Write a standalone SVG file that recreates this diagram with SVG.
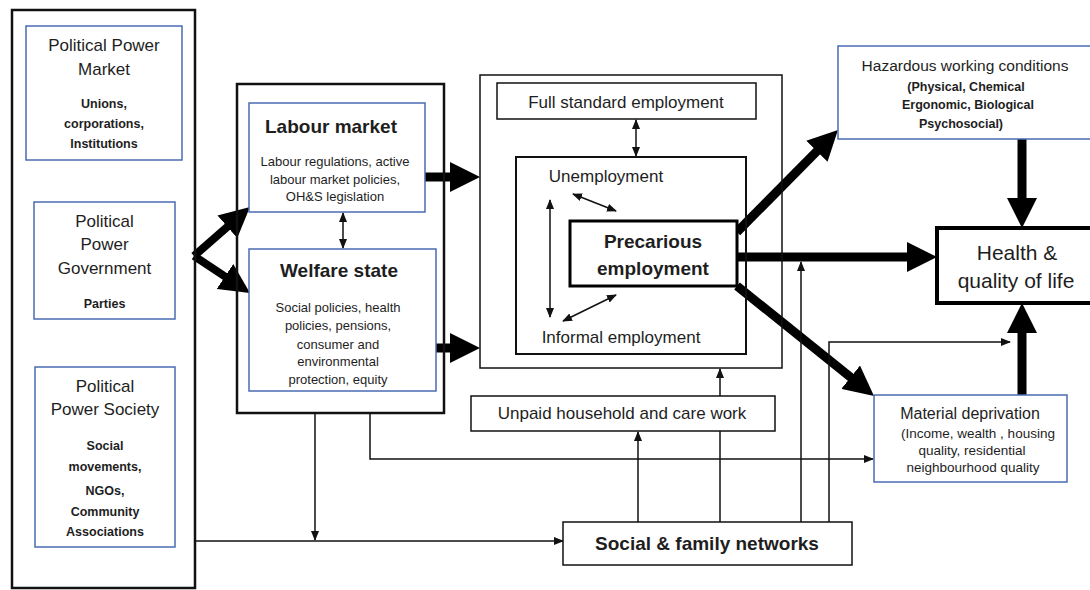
<svg xmlns="http://www.w3.org/2000/svg" width="1090" height="590" viewBox="0 0 1090 590">
<style>
text{font-family:"Liberation Sans",Arial,sans-serif;fill:#1e1e1e;text-anchor:middle}
.blk{fill:#fff;stroke:#111;stroke-width:1.5}
.blue{fill:#fff;stroke:#4a6cb3;stroke-width:1.5}
.thick{stroke:#000;stroke-width:9;fill:none;marker-end:url(#big)}
.thin{stroke:#111;stroke-width:1.5;fill:none}
.arr{marker-end:url(#sm)}
.dbl{marker-end:url(#sm);marker-start:url(#sm)}
.t17{font-size:17px}
.s12{font-size:12.5px;font-weight:bold}
.s13{font-size:13px}
.b19{font-size:19px;font-weight:bold}
</style>
<defs>
<marker id="big" markerUnits="userSpaceOnUse" markerWidth="30" markerHeight="30" refX="10" refY="15" orient="auto"><path d="M0,0 L30,15 L0,30 z" fill="#000"/></marker>
<marker id="sm" markerUnits="userSpaceOnUse" markerWidth="10" markerHeight="8" refX="9" refY="4" orient="auto-start-reverse"><path d="M0,0 L10,4 L0,8 z" fill="#111"/></marker>
</defs>
<rect width="1090" height="590" fill="#fff"/>

<g id="connectors">
<line class="thick" x1="194" y1="256" x2="234.9" y2="220.2" style="stroke-width:8"/>
<line class="thick" x1="194" y1="256" x2="233.3" y2="282" style="stroke-width:8"/>
<line class="thick" x1="425" y1="177" x2="460" y2="177"/>
<line class="thick" x1="436" y1="348" x2="460" y2="348"/>
<line class="thick" x1="737" y1="232" x2="823.9" y2="144.2"/>
<line class="thick" x1="737" y1="257" x2="917" y2="257"/>
<line class="thick" x1="737" y1="286" x2="858.4" y2="383.5"/>
<line class="thick" x1="1022" y1="139" x2="1022" y2="208"/>
<line class="thick" x1="1022" y1="395" x2="1022" y2="323"/>
<line class="thin dbl" x1="343" y1="213" x2="343" y2="248"/>
<line class="thin dbl" x1="636" y1="120" x2="636" y2="156"/>
<line class="thin dbl" x1="573" y1="194" x2="616" y2="211"/>
<line class="thin dbl" x1="550" y1="200" x2="550" y2="317"/>
<line class="thin dbl" x1="563" y1="321" x2="616" y2="295"/>
<line class="thin arr" x1="315" y1="413" x2="315" y2="540"/>
<line class="thin arr" x1="195" y1="541" x2="563" y2="541"/>
<polyline class="thin arr" points="370,413 370,459 873,459"/>
<line class="thin arr" x1="638" y1="522" x2="638" y2="432"/>
<line class="thin" x1="720" y1="522" x2="720" y2="431"/>
<line class="thin arr" x1="720" y1="396" x2="720" y2="369"/>
<line class="thin arr" x1="801" y1="522" x2="801" y2="262"/>
<polyline class="thin arr" points="829,522 829,342 1010,342"/>
</g>

<g id="left-column">
<rect x="12" y="10" width="183" height="578" fill="none" stroke="#111" stroke-width="2.5"/>
</g>
<g id="pp-market">
<rect class="blue" x="26" y="26" width="156" height="134"/>
<text class="t17" x="104" y="51">Political Power</text>
<text class="t17" x="104" y="75">Market</text>
<text class="s12" x="104" y="108">Unions,</text>
<text class="s12" x="104" y="128">corporations,</text>
<text class="s12" x="104" y="148">Institutions</text>
</g>
<g id="pp-government">
<rect class="blue" x="34" y="202" width="141" height="117"/>
<text class="t17" x="104.5" y="227">Political</text>
<text class="t17" x="104.5" y="250">Power</text>
<text class="t17" x="104.5" y="274">Government</text>
<text class="s12" x="104.5" y="308">Parties</text>
</g>
<g id="pp-society">
<rect class="blue" x="35" y="367" width="140" height="180"/>
<text class="t17" x="105" y="392">Political</text>
<text class="t17" x="105" y="415">Power Society</text>
<text class="s12" x="105" y="450">Social</text>
<text class="s12" x="105" y="471">movements,</text>
<text class="s12" x="105" y="495">NGOs,</text>
<text class="s12" x="105" y="516">Community</text>
<text class="s12" x="105" y="536">Associations</text>
</g>

<g id="policy-container">
<rect x="237" y="84" width="207" height="329" fill="none" stroke="#111" stroke-width="2.5"/>
</g>
<g id="labour-market">
<rect class="blue" x="249" y="103" width="176" height="109"/>
<text class="b19" x="331" y="133">Labour market</text>
<text class="s13" x="335" y="166">Labour regulations, active</text>
<text class="s13" x="335" y="184">labour market policies,</text>
<text class="s13" x="335" y="201">OH&amp;S legislation</text>
</g>
<g id="welfare-state">
<rect class="blue" x="249" y="249" width="187" height="142"/>
<text class="b19" x="339" y="277">Welfare state</text>
<text class="s13" x="338" y="312">Social policies, health</text>
<text class="s13" x="338" y="330">policies, pensions,</text>
<text class="s13" x="338" y="349">consumer and</text>
<text class="s13" x="338" y="366">environmental</text>
<text class="s13" x="338" y="384">protection, equity</text>
</g>

<g id="employment">
<rect x="480" y="75" width="302" height="293" fill="none" stroke="#111" stroke-width="1.5"/>
</g>
<g id="full-standard">
<rect class="blk" x="497" y="83" width="259" height="36"/>
<text class="t17" x="626" y="108">Full standard employment</text>
</g>
<g id="employment-inner">
<rect x="516" y="157" width="230" height="197" fill="none" stroke="#111" stroke-width="2"/>
<text class="t17" x="606" y="182">Unemployment</text>
<text class="t17" x="621" y="343">Informal employment</text>
</g>
<g id="precarious">
<rect x="570" y="221" width="167" height="65" fill="#fff" stroke="#000" stroke-width="3"/>
<text class="b19" x="653" y="248">Precarious</text>
<text class="b19" x="653" y="275">employment</text>
</g>

<g id="hazardous">
<rect class="blue" x="838" y="46" width="260" height="93"/>
<text x="965" y="71" style="font-size:15.5px">Hazardous working conditions</text>
<text class="s12" x="966" y="91">(Physical, Chemical</text>
<text class="s12" x="968" y="109">Ergonomic, Biological</text>
<text class="s12" x="961" y="128">Psychosocial)</text>
</g>
<g id="health">
<rect x="937" y="228" width="160" height="75" fill="#fff" stroke="#000" stroke-width="4"/>
<text x="1017" y="260" style="font-size:21px">Health &amp;</text>
<text x="1016" y="288" style="font-size:21px">quality of life</text>
</g>
<g id="material">
<rect class="blue" x="874" y="395" width="193" height="87"/>
<text x="970" y="419" style="font-size:16px">Material deprivation</text>
<text x="978" y="438" style="font-size:13.5px">(Income, wealth , housing</text>
<text x="972" y="455" style="font-size:13.5px">quality, residential</text>
<text x="973" y="472" style="font-size:13.5px">neighbourhood quality</text>
</g>
<g id="unpaid">
<rect class="blk" x="471" y="396" width="304" height="35"/>
<text class="t17" x="622" y="419">Unpaid household and care work</text>
</g>
<g id="social">
<rect class="blk" x="563" y="522" width="289" height="43"/>
<text x="707" y="550" style="font-size:19px;font-weight:bold">Social &amp; family networks</text>
</g>
</svg>
